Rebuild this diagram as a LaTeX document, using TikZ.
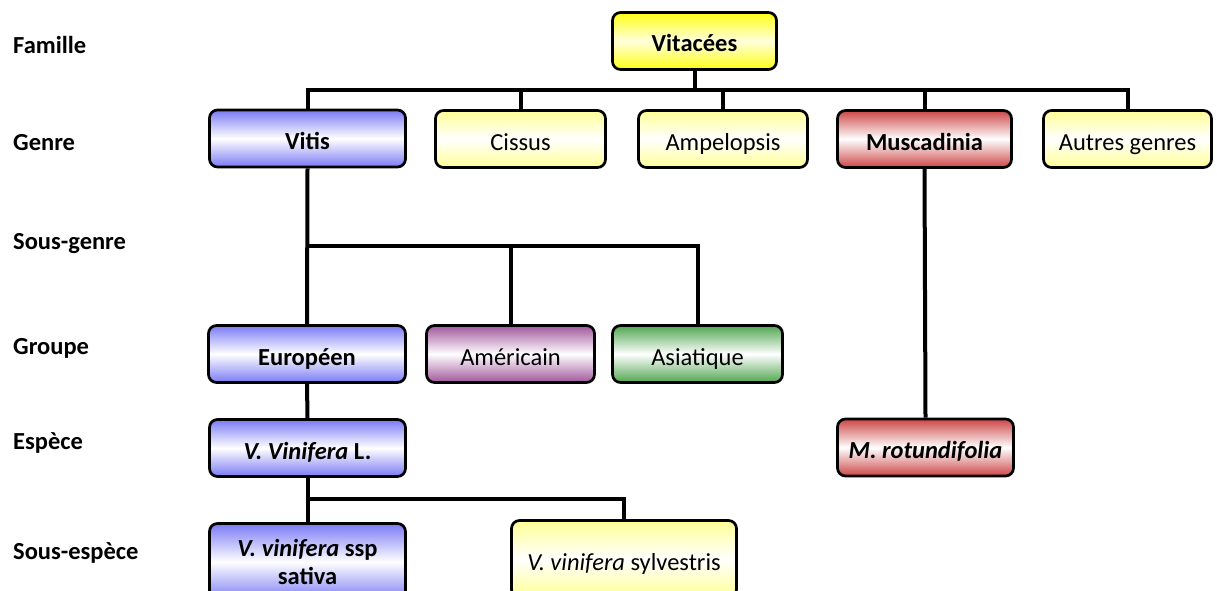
\documentclass[tikz,border=0pt]{standalone}
\usepackage{fontspec}
\setmainfont{Carlito}
\definecolor{cblue}{RGB}{122,122,245}
\definecolor{cyel}{RGB}{255,255,20}
\definecolor{cpale}{RGB}{255,255,150}
\definecolor{cred}{RGB}{205,70,70}
\definecolor{cpurp}{RGB}{160,85,155}
\definecolor{cgreen}{RGB}{80,165,80}
\newcommand{\bigfont}{\fontsize{24.5}{28}\selectfont}
\tikzset{
  box/.style={draw=black, line width=2.7pt, rounded corners=8pt, rectangle,
    minimum height=57pt, align=center, font=\bigfont, inner sep=2pt,
    text height=22pt, text depth=0pt},
  boxtwo/.style={text height=, text depth=},
  blue/.style={box, top color=cblue, bottom color=cblue, middle color=white},
  yel/.style={box, top color=cyel, bottom color=cyel, middle color=white!85!cyel},
  pale/.style={box, top color=cpale, bottom color=cpale, middle color=white},
  red/.style={box, top color=cred, bottom color=cred, middle color=white},
  purp/.style={box, top color=cpurp, bottom color=cpurp, middle color=white},
  grn/.style={box, top color=cgreen, bottom color=cgreen, middle color=white},
  bf/.style={font=\bigfont\bfseries},
  lvl/.style={anchor=west, font=\bigfont\bfseries, inner sep=0pt},
  link/.style={line width=4pt}
}
\begin{document}
\begin{tikzpicture}[x=1pt,y=-1pt]
\useasboundingbox[fill=white] (0,0) rectangle (1217,591);
% level labels
\node[lvl] (l1) at (13,45) {Famille};
\node[lvl] (l2) at (13,143) {Genre};
\node[lvl] (l3) at (13,244) {Sous-genre};
\node[lvl] (l4) at (13,348) {Groupe};
\node[lvl] (l5) at (13,443) {Espèce};
\node[lvl] (l6) at (13,553) {Sous-espèce};
% coordinates of the buses
\coordinate (b1) at (0,90);
\coordinate (b2) at (0,246);
\coordinate (b3) at (0,499);
\coordinate (fc) at (694.5,41);
\coordinate (vc) at (307.5,138.5);
\coordinate (cc) at (520.5,139);
\coordinate (apc) at (723,139);
\coordinate (mc) at (924.5,139);
\coordinate (ac) at (1127.5,139);
% upper connectors (drawn first)
\draw[link] (fc) -- (fc |- b1);
\draw[link] (vc) -- (vc |- b1) -| (ac);
\draw[link] (cc) -- (cc |- b1);
\draw[link] (apc) -- (apc |- b1);
\draw[link] (mc) -- (mc |- b1);
% nodes
\node[yel, bf, minimum width=164pt] (vitacees) at (fc) {Vitacées};
\node[blue, bf, minimum width=196pt] (vitis) at (vc) {Vitis};
\node[pale, minimum width=170pt] (cissus) at (cc) {Cissus};
\node[pale, minimum width=169pt] (ampelopsis) at (apc) {Ampelopsis};
\node[red, bf, minimum width=174pt] (muscadinia) at (mc) {Muscadinia};
\node[pale, minimum width=168pt] (autres) at (ac) {Autres genres};
\node[blue, bf, minimum width=197pt] (europeen) at (307,354) {Européen};
\node[purp, minimum width=168pt] (americain) at (510.5,354) {Américain};
\node[grn, minimum width=170pt] (asiatique) at (697.5,354) {Asiatique};
\node[blue, bf, minimum width=196pt] (vvl) at (307.5,448) {\textit{V. Vinifera} L.};
\node[red, font=\bigfont\bfseries\itshape, minimum width=176pt] (rotund) at (925.5,447.5) {M. rotundifolia};
\node[blue, boxtwo, font=\fontsize{24.5}{28}\selectfont\bfseries, minimum width=196pt, minimum height=77pt] (sativa) at (307.5,562) {\textit{V. vinifera} ssp\\sativa};
\node[pale, minimum width=225pt, minimum height=77pt] (sylv) at (624,559) {\textit{V. vinifera} sylvestris};
% lower connectors
\draw[link] (vitis.south) -- (europeen.north);
\draw[link] (vitis.south |- b2) -| (asiatique.north);
\draw[link] (americain.north) -- (americain.north |- b2);
\draw[link] (europeen.south) -- (vvl.north);
\draw[link] (vvl.south) -- (sativa.north);
\draw[link] (vvl.south |- b3) -| (sylv.north);
\draw[link] (muscadinia.south) -- (rotund.north);
\end{tikzpicture}
\end{document}
